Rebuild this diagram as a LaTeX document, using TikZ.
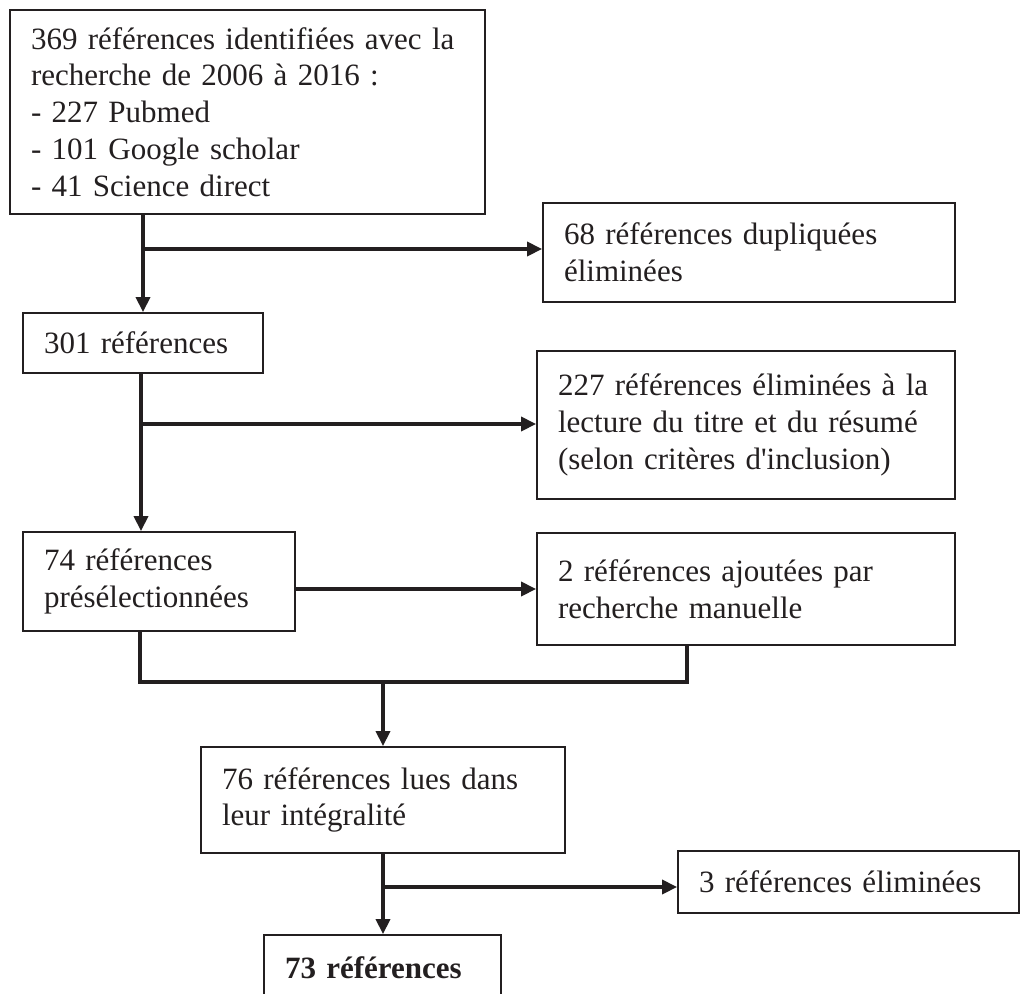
\documentclass[tikz,border=0pt]{standalone}
\usepackage{fontspec}
\setmainfont{Liberation Serif}[Ligatures=TeXOff]
\usetikzlibrary{arrows.meta}
\definecolor{ink}{RGB}{35,31,32}
\begin{document}
\begin{tikzpicture}[x=1pt,y=-1pt,
  box/.style={draw=ink, line width=1.8pt, rectangle, inner xsep=21pt, inner ysep=0pt,
    align=left, text=ink, font=\fontsize{31}{36.8}\selectfont},
  link/.style={draw=ink, line width=3.4pt},
  arr/.style={link, -{Triangle[length=15pt,width=14pt]}}]
\useasboundingbox (0,0) rectangle (1021,994);
\fill[white] (0,0) rectangle (1021,994);

\node[box, minimum width=475pt, minimum height=204pt, text width=433pt] (top) at (247.5,112)
  {369 références identifiées avec la\\recherche de 2006 à 2016 :\\- 227 Pubmed\\- 101 Google scholar\\- 41 Science direct};
\node[box, minimum width=412pt, minimum height=99pt, text width=370pt] (dup) at (749,252.5)
  {68 références dupliquées\\éliminées};
\node[box, minimum width=240pt, minimum height=60pt, text width=198pt] (r301) at (143,343)
  {301 références};
\node[box, minimum width=418pt, minimum height=148pt, text width=376pt] (e227) at (746,425)
  {227 références éliminées à la\\lecture du titre et du résumé\\(selon critères d'inclusion)};
\node[box, minimum width=272pt, minimum height=99pt, text width=230pt] (r74) at (159,581.5)
  {74 références\\présélectionnées};
\node[box, minimum width=418pt, minimum height=112pt, text width=376pt] (add2) at (746,589)
  {2 références ajoutées par\\recherche manuelle};
\node[box, minimum width=364pt, minimum height=106pt, text width=322pt] (r76) at (383,800)
  {76 références lues dans\\leur intégralité};
\node[box, minimum width=341pt, minimum height=62pt, text width=299pt] (e3) at (848.5,882)
  {3 références éliminées};
\node[box, minimum width=237pt, minimum height=66pt, text width=195pt] (r73) at (382.5,968)
  {\textbf{73 références}};

\coordinate (j1) at (143,249);
\coordinate (j2) at (141,424);
\coordinate (mL) at (140,682);
\coordinate (mR) at (687,682);
\coordinate (j3) at (383,887);

\draw[arr] (top.south -| r301.north) -- (r301.north);
\draw[arr] (j1) -- (j1 -| dup.west);
\draw[arr] (r301.south -| j2) -- (j2 |- r74.north);
\draw[arr] (j2) -- (j2 -| e227.west);
\draw[arr] (r74.east |- add2.west) -- (add2.west);
\draw[link] (mL |- r74.south) -- (mL) -- (mR) -- (mR |- add2.south);
\draw[arr] (mL -| r76.north) -- (r76.north);
\draw[arr] (r76.south) -- (r76.south |- r73.north);
\draw[arr] (j3) -- (j3 -| e3.west);
\end{tikzpicture}
\end{document}
